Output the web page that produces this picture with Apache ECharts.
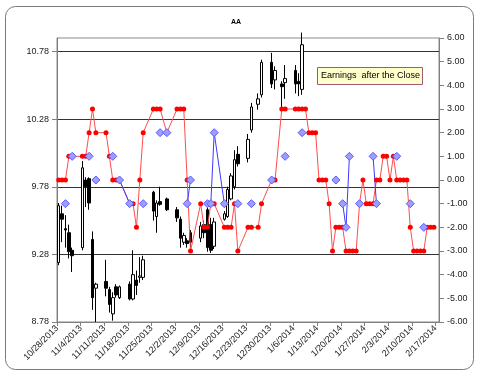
<!DOCTYPE html>
<html>
<head>
<meta charset="utf-8">
<title>AA</title>
<script src="https://cdn.jsdelivr.net/npm/echarts@6/dist/echarts.min.js"></script>
<style>
html, body { margin: 0; padding: 0; background: #fff; }
#main { width: 480px; height: 376px; }
</style>
</head>
<body>
<div id="main"></div>
<script>
// price candles (left axis)
var candleDates = [
  '2013-10-28', '2013-10-29', '2013-10-30', '2013-10-31', '2013-11-01',
  '2013-11-04', '2013-11-05', '2013-11-06', '2013-11-07', '2013-11-08',
  '2013-11-11', '2013-11-12', '2013-11-13', '2013-11-14', '2013-11-15',
  '2013-11-18', '2013-11-19', '2013-11-20', '2013-11-21', '2013-11-22',
  '2013-11-25', '2013-11-26', '2013-11-27', '2013-11-29',
  '2013-12-02', '2013-12-03', '2013-12-04', '2013-12-05', '2013-12-06',
  '2013-12-09', '2013-12-10', '2013-12-11', '2013-12-12', '2013-12-13',
  '2013-12-16', '2013-12-17', '2013-12-18', '2013-12-19', '2013-12-20',
  '2013-12-23', '2013-12-24', '2013-12-26', '2013-12-27',
  '2013-12-30', '2013-12-31', '2014-01-02', '2014-01-03',
  '2014-01-06', '2014-01-07', '2014-01-08'
]
var candleOpen = [
  9.22, 9.58, 9.47, 9.44, 9.31,
  9.33, 9.83, 9.84, 9.39, 9.03,
  9.08, 9.02, 8.84, 9.04, 8.96,
  9.06, 8.95, 9.09, 9.11, 9.11,
  9.74, 9.56, 9.67, 9.69,
  9.61, 9.54, 9.37, 9.38, 9.44,
  9.40, 9.50, 9.61, 9.50, 9.34,
  9.54, 9.56, 9.69, 9.78, 10.02,
  9.99, 10.20, 10.39, 10.46,
  10.70, 10.57, 10.54, 10.55,
  10.64, 10.56, 10.50
]
var candleClose = [
  9.64, 9.54, 9.46, 9.30, 9.27,
  9.92, 9.78, 9.66, 8.96, 9.06,
  9.03, 8.91, 8.96, 8.98, 9.04,
  8.95, 9.13, 9.05, 9.12, 9.24,
  9.60, 9.66, 9.65, 9.61,
  9.55, 9.40, 9.42, 9.36, 9.37,
  9.49, 9.44, 9.33, 9.31, 9.52,
  9.58, 9.76, 9.86, 9.98, 9.95,
  10.13, 10.37, 10.43, 10.70,
  10.54, 10.64, 10.52, 10.58,
  10.54, 10.54, 10.83
]
var candleLow = [
  9.20, 9.37, 9.33, 9.25, 9.15,
  9.31, 9.63, 9.61, 8.87, 8.78,
  8.97, 8.85, 8.79, 8.96, 8.95,
  8.94, 8.94, 8.98, 9.07, 9.09,
  9.53, 9.44, 9.64, 9.60,
  9.52, 9.33, 9.35, 9.33, 9.33,
  9.37, 9.40, 9.30, 9.29, 9.32,
  9.53, 9.55, 9.68, 9.76, 9.93,
  9.96, 10.18, 10.35, 10.44,
  10.51, 10.50, 10.37, 10.43,
  10.47, 10.45, 10.46
]
var candleHigh = [
  9.66, 9.64, 9.57, 9.50, 9.33,
  9.97, 9.85, 9.85, 9.45, 9.07,
  9.24, 9.04, 9.00, 9.06, 9.05,
  9.08, 9.31, 9.16, 9.26, 9.27,
  9.75, 9.68, 9.78, 9.70,
  9.63, 9.56, 9.44, 9.40, 9.46,
  9.52, 9.53, 9.63, 9.55, 9.55,
  9.60, 9.78, 9.88, 10.05, 10.08,
  10.17, 10.40, 10.47, 10.72,
  10.77, 10.67, 10.56, 10.68,
  10.68, 10.62, 10.92
]

// red dots (right axis)
var redDates = [
  '2013-10-28', '2013-10-29', '2013-10-30', '2013-10-31', '2013-11-01',
  '2013-11-04', '2013-11-05', '2013-11-06', '2013-11-07', '2013-11-08',
  '2013-11-11', '2013-11-12', '2013-11-13', '2013-11-14', '2013-11-15',
  '2013-11-18', '2013-11-19', '2013-11-20', '2013-11-21', '2013-11-22',
  '2013-11-25', '2013-11-26', '2013-11-27', '2013-11-29',
  '2013-12-02', '2013-12-03', '2013-12-04', '2013-12-05', '2013-12-06',
  '2013-12-09', '2013-12-10', '2013-12-11', '2013-12-12', '2013-12-13',
  '2013-12-16', '2013-12-17', '2013-12-18', '2013-12-19', '2013-12-20',
  '2013-12-23', '2013-12-24', '2013-12-26', '2013-12-27',
  '2013-12-30', '2013-12-31', '2014-01-02', '2014-01-03',
  '2014-01-06', '2014-01-07', '2014-01-08', '2014-01-09', '2014-01-10',
  '2014-01-11', '2014-01-12', '2014-01-13', '2014-01-14', '2014-01-15',
  '2014-01-16', '2014-01-17', '2014-01-18', '2014-01-19', '2014-01-20',
  '2014-01-21', '2014-01-22', '2014-01-23', '2014-01-24', '2014-01-25',
  '2014-01-26', '2014-01-27', '2014-01-28', '2014-01-29', '2014-01-30',
  '2014-01-31', '2014-02-01', '2014-02-02', '2014-02-03', '2014-02-04',
  '2014-02-05', '2014-02-06', '2014-02-07', '2014-02-08', '2014-02-09',
  '2014-02-10', '2014-02-11', '2014-02-12', '2014-02-13', '2014-02-14',
  '2014-02-15', '2014-02-16'
]
var redValues = [
  0, 0, 0, 1, 1,
  1, 1, 2, 3, 2,
  2, 1, 0, 0, 0,
  -1, -1, -2, 0, 2,
  3, 3, 3, 2,
  3, 3, 3, 0, -3,
  -1, -2, -2, -1, -1,
  -2, -2, -2, -1, -3,
  -2, -2, -2, -1,
  0, 0, 3, 3,
  3, 3, 3, 3, 2,
  2, 2, 0, 0, 0,
  -1, -3, -2, -2, -2,
  -3, -3, -3, -3, -1,
  0, -1, -1, -1, 0,
  0, 1, 1, 0, 1,
  0, 0, 0, 0, -2,
  -3, -3, -3, -3, -2,
  -2, -2
]

// purple diamonds (right axis); blueJoin = 1 when joined to the previous one
var blueDates = [
  '2013-10-30', '2013-11-01', '2013-11-06', '2013-11-08', '2013-11-13',
  '2013-11-15', '2013-11-18', '2013-11-22', '2013-11-27', '2013-11-29',
  '2013-12-05', '2013-12-06', '2013-12-11', '2013-12-12', '2013-12-13',
  '2013-12-16', '2013-12-20', '2013-12-24', '2013-12-30', '2014-01-03',
  '2014-01-08', '2014-01-18', '2014-01-20', '2014-01-21', '2014-01-22',
  '2014-01-25', '2014-01-29', '2014-01-30', '2014-02-05', '2014-02-09',
  '2014-02-13'
]
var blueValues = [
  -1, 1, 1, 0, 1,
  0, -1, -1, 2, 2,
  -1, 0, -1, -1, 2,
  -1, -1, -1, 0, 1,
  2, 0, -1, -2, 1,
  -1, 1, -1, 1, -1,
  -2
]
var blueJoin = [
  0, 0, 0, 0, 0,
  0, 1, 0, 0, 1,
  0, 1, 0, 1, 1,
  1, 0, 0, 0, 0,
  0, 0, 0, 1, 1,
  0, 0, 1, 0, 0,
  0
]

var noteText = 'Earnings  after the Close'
var FONT = '"Liberation Sans", Arial, sans-serif'

// days since 10/28/2013, centred on the day
var start = Date.UTC(2013, 9, 28)
function dayOf(s) {
  var p = s.split('-')
  return (Date.UTC(+p[0], +p[1] - 1, +p[2]) - start) / 86400000 + 0.5
}
function dateLabel(v) {
  var t = new Date(start + Math.round(v) * 86400000)
  return (t.getUTCMonth() + 1) + '/' + t.getUTCDate() + '/' + t.getUTCFullYear()
}

var candleData = candleDates.map(function (d, i) {
  return [dayOf(d), candleOpen[i], candleClose[i], candleLow[i], candleHigh[i]]
})
var redData = redDates.map(function (d, i) {
  return [dayOf(d), redValues[i]]
})
var blueData = []
blueDates.forEach(function (d, i) {
  if (i > 0 && !blueJoin[i]) blueData.push([dayOf(d) - 0.5, '-'])
  blueData.push([dayOf(d), blueValues[i]])
})

var chart = echarts.init(document.getElementById('main'))
var option = {
  animation: false,
  backgroundColor: '#fff',
  textStyle: { fontFamily: FONT },
  grid: {
    left: 57, right: 41, top: 38, bottom: 54,
    show: true, borderColor: '#8a8a8a', borderWidth: 1
  },
  graphic: [
    {
      type: 'rect', silent: true,
      shape: { x: 5.5, y: 6.5, width: 468, height: 363, r: 10 },
      style: { fill: null, stroke: '#7a7a7a', lineWidth: 1 }
    },
    {
      type: 'text', left: 231, top: 19,
      style: { text: 'AA', font: 'bold 7px ' + FONT, fill: '#000' }
    },
    {
      type: 'rect', silent: true, z: 100,
      shape: { x: 317.5, y: 67.5, width: 105, height: 17 },
      style: { fill: '#ffffcc', stroke: '#a05a78', lineWidth: 1 }
    },
    {
      type: 'text', z: 101, x: 321, y: 76,
      style: { text: noteText, font: '9px ' + FONT, fill: '#000', textVerticalAlign: 'middle' }
    }
  ],
  xAxis: {
    type: 'value',
    min: 0, max: 113, interval: 7,
    axisLine: { onZero: false, lineStyle: { color: '#808080' } },
    axisTick: { length: 4, lineStyle: { color: '#808080' } },
    axisLabel: {
      rotate: 45, fontSize: 9, color: '#222', margin: 5,
      showMaxLabel: false, formatter: dateLabel
    },
    splitLine: { show: false }
  },
  yAxis: [
    {
      type: 'value', position: 'left',
      min: 8.78, max: 10.88, interval: 0.5,
      axisLine: { show: true, lineStyle: { color: '#808080' } },
      axisTick: { show: true, length: 5, lineStyle: { color: '#808080' } },
      axisLabel: {
        fontSize: 9, color: '#222', showMaxLabel: false,
        formatter: function (v) { return v.toFixed(2) }
      },
      splitLine: { show: true, showMinLine: false, showMaxLine: false, lineStyle: { color: '#333' } }
    },
    {
      type: 'value', position: 'right',
      min: -6, max: 6, interval: 1,
      axisLine: { show: true, lineStyle: { color: '#808080' } },
      axisTick: { show: true, length: 5, lineStyle: { color: '#808080' } },
      axisLabel: {
        fontSize: 9, color: '#222',
        formatter: function (v) { return v.toFixed(2) }
      },
      splitLine: { show: false }
    }
  ],
  series: [
    {
      name: 'AA',
      type: 'candlestick',
      yAxisIndex: 0,
      barWidth: 3,
      encode: { x: 0, y: [1, 2, 3, 4] },
      itemStyle: {
        color: '#fff', color0: '#000',
        borderColor: '#000', borderColor0: '#000', borderWidth: 1
      },
      data: candleData
    },
    {
      name: 'red',
      type: 'line',
      yAxisIndex: 1,
      symbol: 'circle',
      symbolSize: 5,
      lineStyle: { color: '#ff4d4d', width: 1 },
      itemStyle: { color: '#ff0000' },
      data: redData
    },
    {
      name: 'blue',
      type: 'line',
      yAxisIndex: 1,
      symbol: 'diamond',
      symbolSize: 8,
      connectNulls: false,
      lineStyle: { color: '#3b3bff', width: 1 },
      itemStyle: { color: '#9d9dff', borderColor: '#5a5aff', borderWidth: 1 },
      data: blueData
    }
  ]
}
option && chart.setOption(option)
</script>
</body>
</html>
